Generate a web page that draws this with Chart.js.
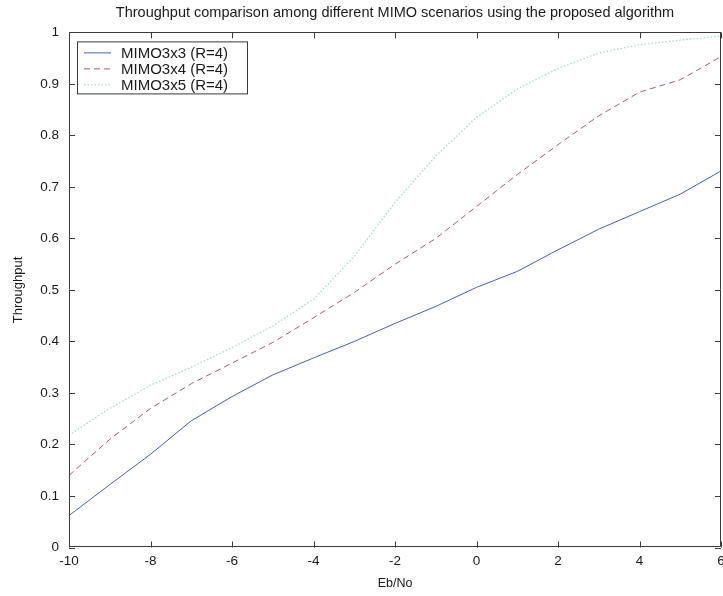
<!DOCTYPE html>
<html>
<head>
<meta charset="utf-8">
<title>Throughput vs Eb/No</title>
<script src="https://cdn.jsdelivr.net/npm/chart.js@4.4.1/dist/chart.umd.min.js"></script>
<style>
  html, body { margin: 0; padding: 0; background: #ffffff; }
  #wrap { width: 723px; height: 596px; }
</style>
</head>
<body>
<div id="wrap"><canvas id="chart" width="723" height="596"></canvas></div>
<script>
// Eb/No points (dB)
const ebno = [-10, -9, -8, -7, -6, -5, -4, -3, -2, -1, 0, 1, 2, 3, 4, 5, 6];

// throughput per antenna setup
const mimo3x3 = [0.062, 0.122, 0.181, 0.246, 0.293, 0.335, 0.368, 0.400, 0.435, 0.468, 0.505, 0.536, 0.578, 0.618, 0.652, 0.686, 0.731];
const mimo3x4 = [0.140, 0.210, 0.270, 0.318, 0.358, 0.398, 0.446, 0.495, 0.550, 0.600, 0.662, 0.724, 0.782, 0.838, 0.884, 0.908, 0.953];
const mimo3x5 = [0.218, 0.270, 0.315, 0.350, 0.388, 0.430, 0.482, 0.565, 0.670, 0.760, 0.835, 0.890, 0.930, 0.960, 0.976, 0.985, 0.993];

const seriesNames = ['MIMO3x3 (R=4)', 'MIMO3x4 (R=4)', 'MIMO3x5 (R=4)'];

const xTicks = [-10, -8, -6, -4, -2, 0, 2, 4, 6];
const yTicks = [0, 0.1, 0.2, 0.3, 0.4, 0.5, 0.6, 0.7, 0.8, 0.9, 1];

const FONT = 'Liberation Sans, Arial, sans-serif';
const AXIS = '#3a3a3a';

function pts(ys) {
    return ebno.map((x, i) => ({ x: x, y: ys[i] }));
}

// MATLAB-style box: inward ticks on all four sides plus top/right edges
const boxTicks = {
    id: 'boxTicks',
    afterDraw(chart) {
        const ctx = chart.ctx;
        const a = chart.chartArea;
        const xs = chart.scales.x, ys = chart.scales.y;
        const len = 6;
        ctx.save();
        ctx.strokeStyle = AXIS;
        ctx.lineWidth = 1;
        ctx.beginPath();
        ctx.rect(Math.round(a.left) + 0.5, Math.round(a.top) + 0.5,
                 Math.round(a.right - a.left) - 1, Math.round(a.bottom - a.top) - 1);
        xTicks.forEach(v => {
            const px = Math.round(xs.getPixelForValue(v)) + 0.5;
            ctx.moveTo(px, a.bottom); ctx.lineTo(px, a.bottom - len);
            ctx.moveTo(px, a.top); ctx.lineTo(px, a.top + len);
        });
        yTicks.forEach(v => {
            const py = Math.round(ys.getPixelForValue(v)) + 0.5;
            ctx.moveTo(a.left, py); ctx.lineTo(a.left + len, py);
            ctx.moveTo(a.right, py); ctx.lineTo(a.right - len, py);
        });
        ctx.stroke();
        ctx.restore();
    }
};

// boxed legend in the upper-left corner of the axes
const boxLegend = {
    id: 'boxLegend',
    afterDraw(chart) {
        const ctx = chart.ctx;
        const a = chart.chartArea;
        const left = a.left + 8, top = a.top + 9;
        const w = 170, rowH = 16, h = rowH * chart.data.datasets.length + 4;
        ctx.save();
        ctx.fillStyle = '#ffffff';
        ctx.fillRect(left, top, w, h);
        ctx.strokeStyle = AXIS;
        ctx.lineWidth = 1;
        ctx.strokeRect(left + 0.5, top + 0.5, w, h);
        ctx.font = '15px ' + FONT;
        ctx.textBaseline = 'middle';
        chart.data.datasets.forEach((ds, i) => {
            const y = top + 11 + i * rowH;
            ctx.strokeStyle = ds.borderColor;
            ctx.lineWidth = ds.borderWidth;
            ctx.setLineDash(ds.borderDash || []);
            ctx.beginPath();
            ctx.moveTo(left + 7, y + 0.5);
            ctx.lineTo(left + 34, y + 0.5);
            ctx.stroke();
            ctx.setLineDash([]);
            ctx.fillStyle = '#1a1a1a';
            ctx.fillText(ds.label, left + 44, y + 1);
        });
        ctx.restore();
    }
};

new Chart(document.getElementById('chart'), {
    type: 'line',
    data: {
        datasets: [
            {
                label: seriesNames[0],
                data: pts(mimo3x3),
                borderColor: '#4d5fb3',
                borderWidth: 1,
                pointRadius: 0,
                tension: 0
            },
            {
                label: seriesNames[1],
                data: pts(mimo3x4),
                borderColor: '#a8606c',
                borderWidth: 1,
                borderDash: [6, 4],
                pointRadius: 0,
                tension: 0
            },
            {
                label: seriesNames[2],
                data: pts(mimo3x5),
                borderColor: '#a9d8d3',
                borderWidth: 1.3,
                borderDash: [1.5, 2],
                pointRadius: 0,
                tension: 0
            }
        ]
    },
    options: {
        responsive: false,
        animation: false,
        layout: { padding: { left: 0, right: 2, top: 0, bottom: 0 } },
        plugins: {
            legend: { display: false },
            tooltip: { enabled: false },
            title: {
                display: true,
                fullSize: false,
                text: 'Throughput comparison among different MIMO scenarios using the proposed algorithm',
                color: '#1a1a1a',
                font: { family: FONT, size: 14.5, weight: 'normal', lineHeight: 1.2 },
                padding: { top: 4, bottom: 11 }
            }
        },
        scales: {
            x: {
                type: 'linear',
                min: -10,
                max: 6,
                afterBuildTicks: s => { s.ticks = xTicks.map(v => ({ value: v })); },
                afterFit: s => { s.height = 48.5; s.paddingLeft = 0; s.paddingRight = 0; },
                grid: { display: false, drawTicks: false },
                border: { display: false },
                ticks: {
                    color: '#1a1a1a',
                    font: { family: FONT, size: 13.5 },
                    padding: 6,
                    maxRotation: 0,
                    autoSkip: false
                },
                title: {
                    display: true,
                    text: 'Eb/No',
                    color: '#1a1a1a',
                    font: { family: FONT, size: 12.5 },
                    padding: { top: 8, bottom: 5 }
                }
            },
            y: {
                min: 0,
                max: 1,
                afterBuildTicks: s => { s.ticks = yTicks.map(v => ({ value: v })); },
                afterFit: s => { s.width = 69; s.paddingTop = 0; s.paddingBottom = 0; },
                grid: { display: false, drawTicks: false },
                border: { display: false },
                ticks: {
                    color: '#1a1a1a',
                    font: { family: FONT, size: 13.5 },
                    padding: 10,
                    callback: v => String(Math.round(v * 10) / 10)
                },
                title: {
                    display: true,
                    text: 'Throughput',
                    color: '#1a1a1a',
                    font: { family: FONT, size: 13 },
                    padding: { top: 11, bottom: 0 }
                }
            }
        }
    },
    plugins: [boxTicks, boxLegend]
});
</script>
</body>
</html>
